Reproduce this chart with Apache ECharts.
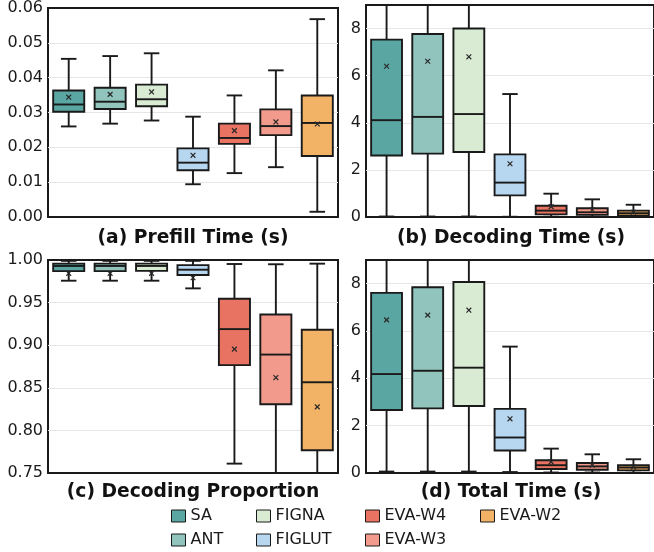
<!DOCTYPE html>
<html>
<head>
<meta charset="utf-8">
<script src="https://cdn.jsdelivr.net/npm/echarts@6/dist/echarts.min.js"></script>
<style>html,body{margin:0;padding:0;background:#fff}#c{width:654px;height:552px}</style>
</head>
<body>
<div id="c"></div>
<script>
// Methods and colours
const methods = ['SA', 'ANT', 'FIGNA', 'FIGLUT', 'EVA-W4', 'EVA-W3', 'EVA-W2'];
const colors = ['#5AA6A2', '#90C4BD', '#D9EBD3', '#B7D6F0', '#E87362', '#F29A8B', '#F2B366'];

// Each row: [min, q1, median, q3, max, mean]
const prefillStats = [
  [0.0260, 0.0302, 0.0323, 0.0363, 0.0454, 0.0344],
  [0.0268, 0.0310, 0.0331, 0.0371, 0.0462, 0.0352],
  [0.0277, 0.0318, 0.0338, 0.0380, 0.0470, 0.0359],
  [0.0094, 0.0134, 0.0156, 0.0197, 0.0288, 0.0177],
  [0.0126, 0.0210, 0.0227, 0.0268, 0.0349, 0.0248],
  [0.0143, 0.0235, 0.0261, 0.0309, 0.0421, 0.0273],
  [0.0015, 0.0175, 0.0270, 0.0349, 0.0568, 0.0267]
];
const decodingStats = [
  [0.02, 2.61, 4.11, 7.53, 13.0, 6.40],
  [0.02, 2.69, 4.25, 7.77, 13.5, 6.61],
  [0.02, 2.76, 4.37, 8.00, 14.0, 6.80],
  [0.01, 0.92, 1.46, 2.66, 5.22, 2.26],
  [0.01, 0.11, 0.27, 0.48, 0.99, 0.44],
  [0.01, 0.09, 0.20, 0.37, 0.75, 0.30],
  [0.01, 0.06, 0.16, 0.27, 0.52, 0.20]
];
const proportionStats = [
  [0.9757, 0.9870, 0.9930, 0.9957, 0.9990, 0.9843],
  [0.9757, 0.9870, 0.9930, 0.9957, 0.9990, 0.9843],
  [0.9757, 0.9872, 0.9930, 0.9957, 0.9990, 0.9843],
  [0.9667, 0.9824, 0.9886, 0.9940, 0.9990, 0.9792],
  [0.7610, 0.8766, 0.9189, 0.9545, 0.9953, 0.8954],
  [0.7000, 0.8307, 0.8890, 0.9361, 0.9950, 0.8620],
  [0.6500, 0.7767, 0.8565, 0.9181, 0.9957, 0.8276]
];
const totalStats = [
  [0.06, 2.66, 4.18, 7.61, 13.2, 6.47],
  [0.06, 2.73, 4.32, 7.85, 13.7, 6.67],
  [0.06, 2.83, 4.45, 8.07, 14.2, 6.88],
  [0.04, 0.95, 1.50, 2.71, 5.34, 2.29],
  [0.02, 0.17, 0.33, 0.54, 1.03, 0.47],
  [0.02, 0.14, 0.28, 0.42, 0.79, 0.33],
  [0.01, 0.11, 0.23, 0.33, 0.58, 0.25]
];

// Axis settings per panel
const panelTitles = ['(a) Prefill Time (s)', '(b) Decoding Time (s)', '(c) Decoding Proportion', '(d) Total Time (s)'];
const yMins = [0, 0, 0.75, 0];
const yMaxs = [0.06, 9, 1.0, 9];
const yIntervals = [0.01, 2, 0.05, 2];
const yDecimals = [2, 0, 2, 0];
const panelStats = [prefillStats, decodingStats, proportionStats, totalStats];

const FONT = 'DejaVu Sans';
const grids = [
  {left: 48, top: 5, width: 290, height: 212},
  {left: 366, top: 5, width: 290, height: 212},
  {left: 48, top: 260, width: 290, height: 213},
  {left: 366, top: 260, width: 290, height: 213}
];
const titleOffsets = [21, 21, 19, 19];

function renderBox(params, api) {
  const cs = params.coordSys;
  const yTop = cs.y, yBot = cs.y + cs.height;
  const xi = api.value(0);
  const band = api.size([1, 0])[0];
  const hw = band * 0.375;
  const capHw = hw * 0.5;
  const px = (v) => api.coord([xi, v]);
  const cx = px(api.value(1))[0];
  const clampY = (y) => Math.max(yTop, Math.min(yBot, y));
  const yMin = px(api.value(1))[1];
  const yQ1 = px(api.value(2))[1];
  const yMed = px(api.value(3))[1];
  const yQ3 = px(api.value(4))[1];
  const yMax = px(api.value(5))[1];
  const yMean = px(api.value(6))[1];
  const color = api.visual('color');
  const lineStyle = {stroke: '#1a1a1a', lineWidth: 1.9};
  const children = [];
  children.push({type: 'line', shape: {x1: cx, y1: clampY(yQ1), x2: cx, y2: clampY(yMin)}, style: lineStyle});
  children.push({type: 'line', shape: {x1: cx, y1: clampY(yQ3), x2: cx, y2: clampY(yMax)}, style: lineStyle});
  if (yMin <= yBot + 0.5) children.push({type: 'line', shape: {x1: cx - capHw, y1: yMin, x2: cx + capHw, y2: yMin}, style: lineStyle});
  if (yMax >= yTop - 0.5) children.push({type: 'line', shape: {x1: cx - capHw, y1: yMax, x2: cx + capHw, y2: yMax}, style: lineStyle});
  const bt = clampY(yQ3), bb = clampY(yQ1);
  children.push({type: 'rect', shape: {x: cx - hw, y: bt, width: hw * 2, height: bb - bt},
    style: {fill: color, stroke: '#1a1a1a', lineWidth: 1.9}});
  children.push({type: 'line', shape: {x1: cx - hw, y1: yMed, x2: cx + hw, y2: yMed}, style: lineStyle});
  const m = 2.4;
  const ms = {stroke: '#2a2a2a', lineWidth: 1.2};
  children.push({type: 'line', shape: {x1: cx - m, y1: yMean - m, x2: cx + m, y2: yMean + m}, style: ms});
  children.push({type: 'line', shape: {x1: cx - m, y1: yMean + m, x2: cx + m, y2: yMean - m}, style: ms});
  return {type: 'group', children: children};
}

const xAxes = [], yAxes = [], series = [], graphics = [];
for (let p = 0; p < 4; p++) {
  xAxes.push({type: 'category', gridIndex: p, data: methods, boundaryGap: true,
    axisLine: {show: false}, axisTick: {show: false}, axisLabel: {show: false}, splitLine: {show: false}});
  yAxes.push({type: 'value', gridIndex: p, min: yMins[p], max: yMaxs[p], interval: yIntervals[p],
    axisLine: {show: false}, axisTick: {show: false},
    axisLabel: {show: true, fontFamily: FONT, fontSize: 16, color: '#1a1a1a', margin: 5,
      showMaxLabel: (p === 0 || p === 2),
      formatter: (function (d) { return function (v) { return Number(v).toFixed(d); }; })(yDecimals[p])},
    splitLine: {show: true, showMinLine: false, showMaxLine: false, lineStyle: {color: '#e6e6e6', width: 1}}});
  for (let i = 0; i < methods.length; i++) {
    series.push({type: 'custom', name: methods[i], xAxisIndex: p, yAxisIndex: p,
      itemStyle: {color: colors[i]}, clip: true, renderItem: renderBox,
      encode: {x: 0, y: [1, 2, 3, 4, 5, 6]},
      data: [[i].concat(panelStats[p][i])]});
  }
  const g = grids[p];
  graphics.push({type: 'text', x: g.left + g.width / 2, y: g.top + g.height + titleOffsets[p],
    style: {text: panelTitles[p], font: 'bold 18.7px "DejaVu Sans"', fill: '#111', textAlign: 'center', textVerticalAlign: 'middle'}});
}

const gridOpts = grids.map(g => Object.assign({show: true, borderColor: '#1a1a1a', borderWidth: 2, backgroundColor: 'transparent'}, g));

const legendCols = [['SA', 'ANT'], ['FIGNA', 'FIGLUT'], ['EVA-W4', 'EVA-W3'], ['EVA-W2']];
const legendX = [171, 256, 365, 480];
const legends = legendCols.map((names, k) => ({
  data: names, orient: 'vertical', left: legendX[k], top: 508, padding: 0,
  itemWidth: 14, itemHeight: 12, itemGap: 8, icon: 'rect', selectedMode: false,
  itemStyle: {borderColor: '#1a1a1a', borderWidth: 1},
  textStyle: {fontFamily: FONT, fontSize: 16, color: '#1a1a1a', padding: [0, 0, 0, 0]}
}));

const chart = echarts.init(document.getElementById('c'), null, {renderer: 'canvas'});
chart.setOption({
  animation: false,
  backgroundColor: '#fff',
  grid: gridOpts,
  xAxis: xAxes,
  yAxis: yAxes,
  legend: legends,
  graphic: graphics,
  series: series
});
</script>
</body>
</html>
